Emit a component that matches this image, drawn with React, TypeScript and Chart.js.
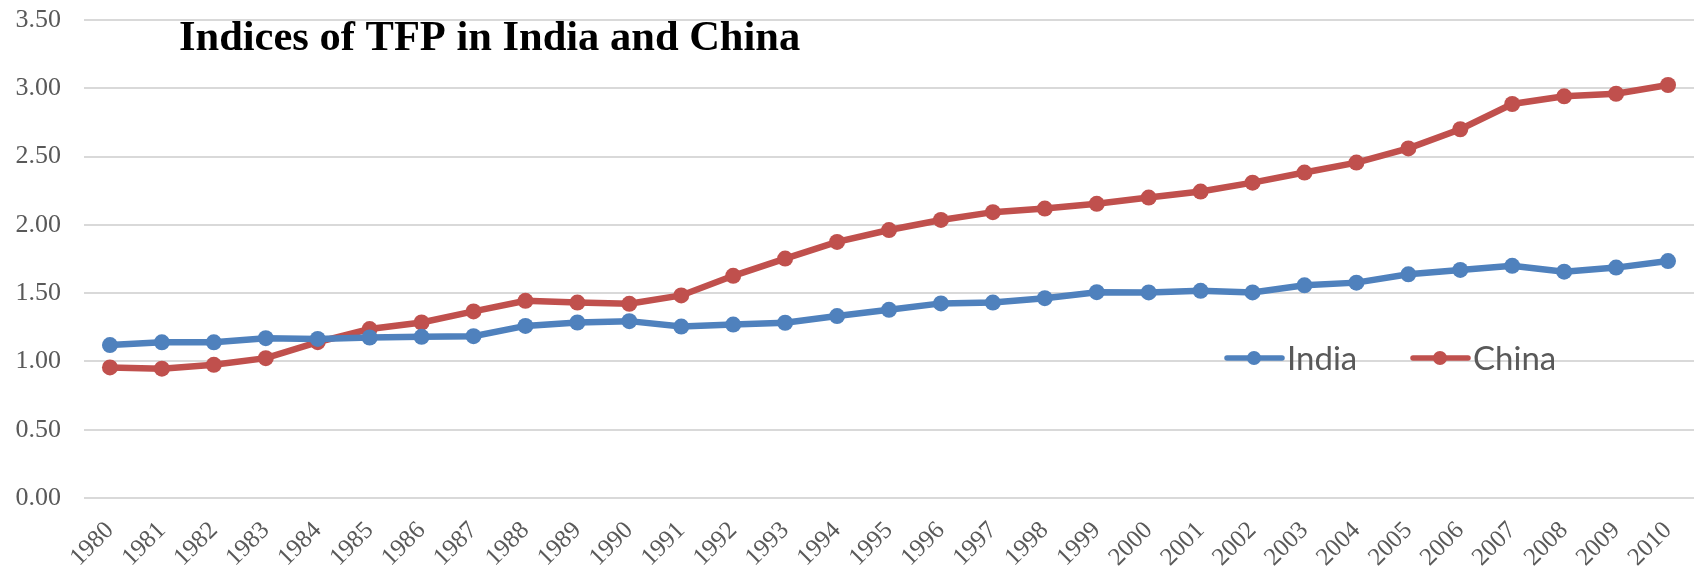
import React, { useEffect, useRef } from "react";
import { Chart, registerables } from "chart.js";

Chart.register(...registerables);

// Years on the category axis
const years = [
  "1980", "1981", "1982", "1983", "1984", "1985", "1986", "1987", "1988", "1989",
  "1990", "1991", "1992", "1993", "1994", "1995", "1996", "1997", "1998", "1999",
  "2000", "2001", "2002", "2003", "2004", "2005", "2006", "2007", "2008", "2009", "2010",
];

// TFP index, India
const india = [
  1.12, 1.14, 1.14, 1.17, 1.165, 1.175, 1.18, 1.185, 1.26, 1.285,
  1.295, 1.255, 1.27, 1.283, 1.332, 1.378, 1.425, 1.431, 1.463, 1.507,
  1.505, 1.517, 1.505, 1.557, 1.577, 1.638, 1.67, 1.70, 1.657, 1.687, 1.735,
];

// TFP index, China
const china = [
  0.956, 0.947, 0.975, 1.024, 1.141, 1.237, 1.285, 1.366, 1.444, 1.431,
  1.422, 1.483, 1.627, 1.753, 1.875, 1.962, 2.036, 2.093, 2.119, 2.154,
  2.200, 2.244, 2.309, 2.383, 2.456, 2.560, 2.700, 2.885, 2.941, 2.960, 3.024,
];

const seriesNames = ["India", "China"];
const seriesColors = ["#4F81BD", "#C0504D"];
const titleText = "Indices of TFP in India and China";

const serif = '"Liberation Serif", "Times New Roman", serif';
const labelGray = "#595959";

// Draws the heading inside the plot and the inline legend
const overlayPlugin = {
  id: "overlay",
  afterDraw(chart: any) {
    const { ctx, chartArea } = chart;
    ctx.save();

    ctx.font = `bold 42.5px ${serif}`;
    ctx.fillStyle = "#000000";
    ctx.textAlign = "left";
    ctx.textBaseline = "alphabetic";
    ctx.fillText(titleText, chartArea.left + 95, chartArea.top + 30);

    const legendY = 358;
    const starts = [chartArea.left + 1143, chartArea.left + 1329];
    ctx.font = '33px Lato, "Open Sans", sans-serif';
    seriesNames.forEach((name, i) => {
      const x0 = starts[i];
      ctx.strokeStyle = seriesColors[i];
      ctx.lineWidth = 5.5;
      ctx.lineCap = "round";
      ctx.beginPath();
      ctx.moveTo(x0, legendY);
      ctx.lineTo(x0 + 55, legendY);
      ctx.stroke();
      ctx.fillStyle = seriesColors[i];
      ctx.beginPath();
      ctx.arc(x0 + 27, legendY, 7, 0, Math.PI * 2);
      ctx.fill();
      ctx.fillStyle = labelGray;
      ctx.textBaseline = "middle";
      ctx.fillText(name, x0 + 60, legendY + 1);
    });

    ctx.restore();
  },
};

export default function App() {
  const canvasRef = useRef<HTMLCanvasElement | null>(null);

  useEffect(() => {
    if (!canvasRef.current) return;
    const chart = new Chart(canvasRef.current, {
      type: "line",
      data: {
        labels: years,
        datasets: [india, china].map((values, i) => ({
          label: seriesNames[i],
          data: values,
          borderColor: seriesColors[i],
          backgroundColor: seriesColors[i],
          borderWidth: 6.5,
          pointRadius: 8,
          pointHoverRadius: 8,
          pointBorderWidth: 0,
          tension: 0,
          clip: 20,
        })),
      },
      options: {
        animation: false,
        responsive: true,
        maintainAspectRatio: false,
        layout: { padding: { left: 0, top: 20, right: -12, bottom: 0 } },
        plugins: {
          legend: { display: false },
          title: { display: false },
          tooltip: { enabled: false },
        },
        scales: {
          x: {
            offset: true,
            grid: { display: false, drawTicks: false },
            border: { display: false },
            ticks: {
              minRotation: 45,
              maxRotation: 45,
              autoSkip: false,
              color: labelGray,
              font: { family: serif, size: 25 },
              padding: 18,
            },
            afterFit(scale: any) {
              scale.height = 71;
              scale.paddingLeft = 0;
              scale.paddingRight = 0;
            },
          },
          y: {
            min: 0,
            max: 3.5,
            grid: { color: "#d9d9d9", lineWidth: 2, drawTicks: false },
            border: { display: false },
            ticks: {
              stepSize: 0.5,
              color: labelGray,
              font: { family: serif, size: 26 },
              padding: 23,
              callback: (v: any) => Number(v).toFixed(2),
            },
            afterFit(scale: any) {
              scale.width = 84;
              scale.paddingTop = 0;
              scale.paddingBottom = 0;
            },
          },
        },
      },
      plugins: [overlayPlugin],
    });
    return () => chart.destroy();
  }, []);

  return (
    <div
      style={{
        position: "fixed",
        left: 0,
        top: 0,
        width: "1702px",
        height: "569px",
        background: "#ffffff",
        overflow: "hidden",
      }}
    >
      <canvas ref={canvasRef} />
    </div>
  );
}
